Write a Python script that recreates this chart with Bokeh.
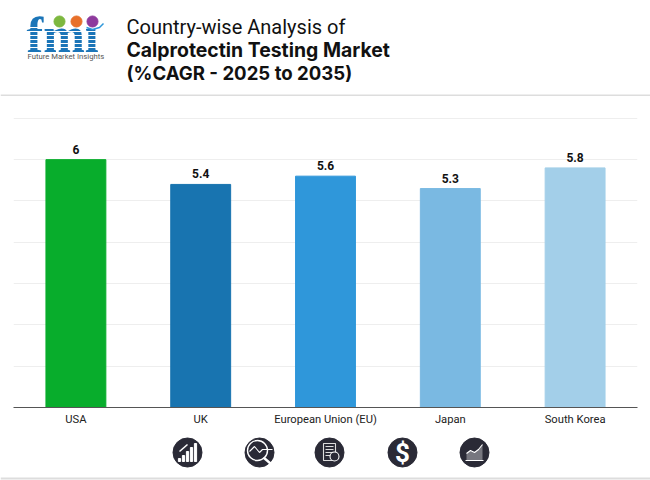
from bokeh.core.properties import value
from bokeh.embed import file_html
from bokeh.layouts import column
from bokeh.models import ColumnDataSource, FactorRange, FixedTicker, LabelSet, Range1d
from bokeh.plotting import figure
from bokeh.resources import INLINE

# Data
countries = ["USA", "UK", "European Union (EU)", "Japan", "South Korea"]
cagr = [6, 5.4, 5.6, 5.3, 5.8]
bar_colors = ["#08AD2C", "#1874B0", "#2F97DA", "#7AB9E2", "#A3CFE9"]
y_ticks = [0, 1, 2, 3, 4, 5, 6, 7]
title_lines = ["Country-wise Analysis of", "Calprotectin Testing Market", "(%CAGR - 2025 to 2035)"]
logo_word = "fmi"
logo_tagline = "Future Market Insights"

DARK = "#2A2A36"
FONT = value("Roboto")


def canvas(height, y_top):
    """A blank figure whose ranges are page pixels (decoration only)."""
    f = figure(width=650, height=height, output_backend="svg", toolbar_location=None,
               x_range=Range1d(0, 650), y_range=Range1d(y_top + height, y_top),
               x_axis_location=None, y_axis_location=None, frame_align=False,
               min_border_left=0, min_border_right=0, min_border_top=0, min_border_bottom=0,
               outline_line_color=None)
    f.grid.visible = False
    return f


# Header
head = canvas(96, 0)
head.text(x=[126], y=[26], text=title_lines[:1], text_font=FONT,
          text_font_size="20px", text_color="#111111", text_baseline="middle")
head.text(x=[126], y=[49], text=title_lines[1:2], text_font=value("Inter"),
          text_font_size="19.4px", text_font_style="bold", text_color="#111111",
          text_baseline="middle")
head.text(x=[126], y=[72], text=title_lines[2:], text_font=value("Inter"),
          text_font_size="18.6px", text_font_style="bold", text_color="#111111",
          text_baseline="middle")
head.text(x=[26], y=[34], text=[logo_word], text_font=value("Liberation Serif"),
          text_font_style="bold", text_font_size="50px", text_color="#1B75B8",
          text_baseline="middle")
head.segment(x0=[24] * 6, x1=[104] * 6, y0=[27, 31, 35, 39, 43, 47], y1=[27, 31, 35, 39, 43, 47],
             line_color="white", line_width=1)
head.scatter(x=[59, 76, 92], y=[21, 21, 21], size=[11, 11, 11],
             color=["#7DB83F", "#E8702A", "#8E3A9D"])
head.line(x=[86, 92, 99, 103], y=[27, 29, 27, 23], line_color="#2F97DA", line_width=1.5)
head.text(x=[27], y=[55.5], text=[logo_tagline], text_font=FONT, text_font_size="7.7px",
          text_color="#555555", text_baseline="middle")
head.segment(x0=[0], x1=[650], y0=[95], y1=[95], line_color="#DDDDDD", line_width=2)

# Chart
source = ColumnDataSource(dict(country=countries, value=cagr, color=bar_colors,
                               label=[str(v) for v in cagr]))
p = figure(width=650, height=336, output_backend="svg", toolbar_location=None,
           x_range=FactorRange(*countries, range_padding=0), y_range=Range1d(0, 7.02),
           frame_align=False,
           min_border_left=13, min_border_right=13, min_border_top=21, min_border_bottom=25,
           outline_line_color=None)
p.vbar(x="country", top="value", width=0.48, color="color", source=source)
p.add_layout(LabelSet(x="country", y="value", text="label", source=source, text_align="center",
                      text_baseline="bottom", y_offset=6, text_font=FONT, text_font_size="12px",
                      text_font_style="bold", text_color="#111111"))
p.yaxis.visible = False
p.xgrid.visible = False
p.ygrid.ticker = FixedTicker(ticks=y_ticks)
p.ygrid.grid_line_color = "#EEEEEE"
p.xaxis.axis_line_color = "#555555"
p.xaxis.major_tick_line_color = None
p.xaxis.minor_tick_line_color = None
p.xaxis.major_label_text_font = "Roboto"
p.xaxis.major_label_text_font_size = "11.2px"
p.xaxis.major_label_text_color = "#222222"
p.xaxis.major_label_standoff = -1

# Footer icons
foot = canvas(48, 432)
foot.scatter(x=[187, 259, 329, 402, 474], y=[452] * 5, size=29, color=DARK)
# icon 1: rising bars and arrow
foot.vbar(x=[179, 183, 187, 191, 195], bottom=[461] * 5, top=[458, 455, 451, 447, 443],
          width=2.2, color="white")
foot.segment(x0=[179], y0=[451], x1=[187], y1=[444], line_color="white", line_width=1.6)
# icon 2: magnifier with trend
foot.scatter(x=[257], y=[450], size=20, marker="circle", fill_color=None,
             line_color="white", line_width=1.4)
foot.line(x=[249, 254, 259, 262, 272], y=[451, 446, 452, 449, 449], line_color="white", line_width=1.1)
foot.segment(x0=[263], y0=[457], x1=[270], y1=[463], line_color="white", line_width=2.4)
# icon 3: document
foot.quad(left=[323], right=[335], top=[443], bottom=[460], fill_color=None,
          line_color="#DDDDDD", line_width=1.1)
foot.segment(x0=[325] * 4, x1=[333] * 4, y0=[446, 449, 452, 455], y1=[446, 449, 452, 455],
             line_color="#DDDDDD", line_width=1)
foot.scatter(x=[334], y=[456], size=9, fill_color=DARK, line_color="white", line_width=1.1)
# icon 4: dollar
foot.text(x=[402], y=[452.5], text=["$"], text_font=FONT, text_font_style="bold",
          text_font_size="26px", text_color="white", text_align="center", text_baseline="middle")
# icon 5: area trend
foot.varea(x=[466, 470, 474, 478, 482], y1=[460] * 5, y2=[453, 450, 452, 449, 444],
           fill_color="#77777F")
foot.line(x=[466, 470, 474, 478, 482], y=[453, 450, 452, 449, 444], line_color="white", line_width=1.1)
foot.segment(x0=[465], x1=[483], y0=[460], y1=[460], line_color="white", line_width=1)
# bottom divider
foot.segment(x0=[0], x1=[650], y0=[478], y1=[478], line_color="#DDDDDD", line_width=2)

page = column(head, p, foot, spacing=0)
open("out.html", "w").write(file_html(page, INLINE))
